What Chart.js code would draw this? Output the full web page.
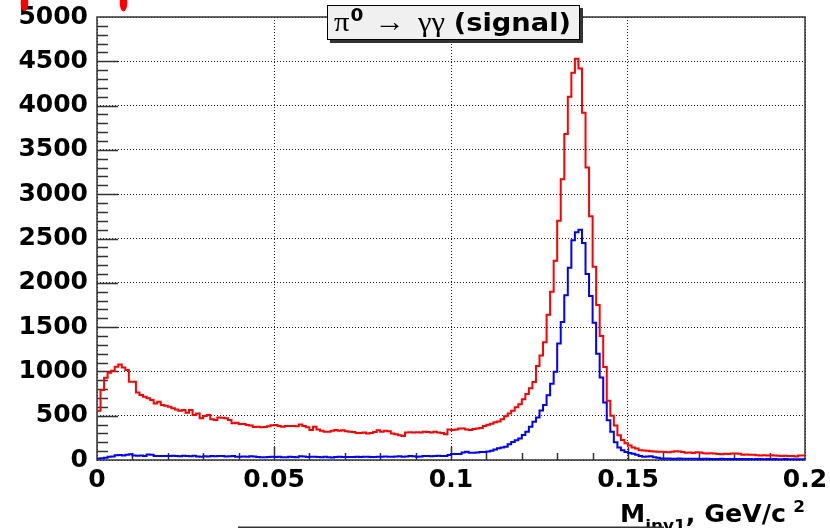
<!DOCTYPE html>
<html>
<head>
<meta charset="utf-8">
<script src="https://cdn.jsdelivr.net/npm/chart.js@4.4.0/dist/chart.umd.min.js"></script>
<style>
  html, body { margin: 0; padding: 0; background: #fff; }
  #wrap { width: 830px; height: 528px; }
</style>
</head>
<body>
<div id="wrap"><canvas id="minv" width="830" height="528"></canvas></div>
<script>
// Invariant mass histogram, 200 bins of 1 MeV from 0 to 0.2 GeV/c^2
const xMin = 0;
const xMax = 0.2;
const nBins = 200;
const binEdges = Array.from({ length: nBins + 1 }, (_, i) => +(xMin + i * (xMax - xMin) / nBins).toFixed(3));

const xTickLabels = ['0', '0.05', '0.1', '0.15', '0.2'];
const yTickLabels = ['0', '500', '1000', '1500', '2000', '2500', '3000', '3500', '4000', '4500', '5000'];

// all photon pairs (red)
const countsAll = [
  140, 556, 790, 929, 985, 1008, 1053, 1079, 1045, 1015,
  884, 884, 763, 733, 714, 696, 677, 639, 658, 620,
  613, 602, 583, 571, 556, 564, 534, 564, 508, 526,
  470, 496, 508, 459, 451, 481, 478, 470, 451, 414,
  421, 406, 406, 395, 388, 372, 376, 370, 372, 380,
  392, 395, 385, 375, 383, 383, 385, 380, 400, 385,
  370, 340, 375, 345, 330, 320, 320, 330, 340, 330,
  335, 325, 320, 315, 305, 305, 310, 300, 305, 315,
  335, 320, 330, 325, 300, 290, 280, 272, 310, 312,
  310, 312, 310, 318, 315, 310, 318, 310, 305, 292,
  345, 340, 345, 355, 355, 345, 340, 350, 355, 360,
  385, 398, 408, 425, 435, 460, 495, 525, 555, 595,
  630, 685, 745, 810, 880, 1060, 1180, 1330, 1640, 1900,
  2250, 2700, 3170, 3680, 4100, 4370, 4530, 4420, 3920, 3300,
  2750, 2180, 1750, 1400, 1050, 670, 500, 390, 280, 225,
  190, 165, 140, 130, 110, 108, 105, 100, 95, 92,
  94, 90, 88, 92, 100, 96, 90, 83, 85, 80,
  88, 86, 76, 74, 75, 72, 68, 66, 70, 68,
  74, 72, 70, 60, 62, 58, 60, 55, 52, 54,
  50, 55, 52, 48, 45, 47, 44, 46, 40, 50
];

// signal pairs from pi0 -> gamma gamma (blue)
const countsSignal = [
  15, 18, 20, 25, 38, 40, 55, 56, 52, 60,
  66, 50, 48, 50, 46, 62, 58, 45, 44, 46,
  45, 44, 48, 45, 43, 47, 45, 42, 48, 40,
  38, 42, 40, 45, 42, 46, 44, 40, 42, 45,
  38, 36, 40, 38, 42, 40, 35, 32, 30, 34,
  36, 35, 38, 32, 30, 36, 34, 30, 42, 40,
  35, 38, 36, 34, 32, 36, 30, 28, 34, 36,
  35, 33, 35, 34, 36, 35, 38, 36, 35, 34,
  36, 38, 40, 36, 38, 40, 42, 38, 40, 44,
  42, 38, 40, 45, 44, 42, 46, 48, 45, 44,
  56, 68, 68, 68, 85, 94, 83, 83, 85, 90,
  90, 95, 105, 118, 132, 140, 150, 178, 203, 222,
  244, 281, 319, 375, 432, 480, 560, 620, 730, 860,
  995, 1314, 1557, 1860, 2170, 2480, 2570, 2600, 2450, 2100,
  1850, 1550, 1200, 930, 650, 450, 320, 200, 140, 110,
  90, 80, 70, 60, 45, 38, 40, 42, 30, 25,
  18, 16, 18, 15, 14, 16, 15, 14, 15, 13,
  14, 12, 13, 14, 12, 11, 12, 13, 11, 12,
  10, 11, 12, 10, 11, 10, 9, 10, 11, 9,
  10, 9, 10, 8, 9, 10, 8, 9, 8, 9
];

// turn bin contents into step points (low edge of each bin + closing point)
function toSteps(counts) {
  const pts = counts.map((c, i) => ({ x: binEdges[i], y: c }));
  pts.push({ x: binEdges[nBins], y: counts[counts.length - 1] });
  return pts;
}

const axisFont = { family: 'DejaVu Sans', weight: 'bold', size: 25 };

// frame and inward ticks, ROOT style
const framePlugin = {
  id: 'frame',
  beforeDatasetsDraw(chart) {
    const { ctx, chartArea: a, scales: { x, y } } = chart;
    ctx.save();
    ctx.strokeStyle = '#333';
    ctx.lineWidth = 1.5;
    ctx.beginPath();
    for (let v = 100; v < 5000; v += 100) {
      const py = Math.round(y.getPixelForValue(v)) + 0.5;
      const len = v % 500 === 0 ? 21 : 11;
      ctx.moveTo(a.left, py);
      ctx.lineTo(a.left + len, py);
    }
    for (let k = 1; k < 20; k++) {
      const px = Math.round(x.getPixelForValue(k / 100)) + 0.5;
      const len = k % 5 === 0 ? 13 : 7;
      ctx.moveTo(px, a.bottom);
      ctx.lineTo(px, a.bottom - len);
    }
    ctx.stroke();
    ctx.strokeRect(a.left, a.top, a.right - a.left, a.bottom - a.top);
    ctx.restore();
  }
};

// draw a run of text pieces squeezed into [x0, x1]
function drawPieces(ctx, pieces, x0, x1, baseline) {
  let w = 0;
  pieces.forEach(p => { ctx.font = p.font; w += ctx.measureText(p.text).width + (p.gap || 0); });
  const sx = (x1 - x0) / w;
  ctx.save();
  ctx.translate(x0, baseline);
  ctx.scale(sx, 1);
  let cx = 0;
  pieces.forEach(p => {
    ctx.font = p.font;
    cx += (p.gap || 0);
    ctx.fillText(p.text, cx, p.dy || 0);
    cx += ctx.measureText(p.text).width;
  });
  ctx.restore();
}

const labelsPlugin = {
  id: 'labels',
  afterDraw(chart) {
    const { ctx } = chart;
    ctx.save();
    ctx.textBaseline = 'alphabetic';

    // title pave with shadow
    ctx.fillStyle = '#333';
    ctx.fillRect(330, 8, 253, 35);
    ctx.fillStyle = '#f0f0f0';
    ctx.fillRect(327, 5, 253, 35);
    ctx.strokeStyle = '#000';
    ctx.lineWidth = 1;
    ctx.strokeRect(327.5, 5.5, 252, 34);
    ctx.fillStyle = '#000';
    const serif = '28px "Liberation Serif", "DejaVu Serif", serif';
    drawPieces(ctx, [
      { text: 'π', font: serif },
      { text: '0', font: 'bold 17px "DejaVu Sans"', dy: -10, gap: 1 },
      { text: '→', font: serif, gap: 10 },
      { text: 'γγ', font: serif, gap: 12 },
      { text: '(signal)', font: 'bold 25px "DejaVu Sans"', gap: 8 }
    ], 334, 571, 31);

    // x axis title
    drawPieces(ctx, [
      { text: 'M', font: 'bold 24px "DejaVu Sans"' },
      { text: 'inv1', font: 'bold 16px "DejaVu Sans"', dy: 9 },
      { text: ', GeV/c', font: 'bold 24px "DejaVu Sans"' },
      { text: '2', font: 'bold 16px "DejaVu Sans"', dy: -10, gap: 7 }
    ], 620, 805, 522);

    // stray markers along the top edge
    ctx.fillStyle = '#ff0000';
    [24.5, 123.5].forEach(cx => {
      ctx.beginPath();
      ctx.ellipse(cx, 3, 3.8, 8.5, 0, 0, Math.PI * 2);
      ctx.fill();
    });

    // edge of the pad below
    ctx.strokeStyle = '#333';
    ctx.lineWidth = 1.5;
    ctx.beginPath();
    ctx.moveTo(238, 527.2);
    ctx.lineTo(664, 527.2);
    ctx.stroke();
    ctx.restore();
  }
};

new Chart(document.getElementById('minv'), {
  type: 'line',
  data: {
    datasets: [
      {
        label: 'signal',
        data: toSteps(countsSignal),
        borderColor: '#0000ff',
        borderWidth: 2,
        stepped: 'after',
        pointRadius: 0,
        fill: false
      },
      {
        label: 'all',
        data: toSteps(countsAll),
        borderColor: '#ff0000',
        borderWidth: 2,
        stepped: 'after',
        pointRadius: 0,
        fill: false
      }
    ]
  },
  options: {
    responsive: false,
    animation: false,
    devicePixelRatio: 1,
    layout: { padding: { top: 17, right: 25, left: 0, bottom: 0 } },
    plugins: { legend: { display: false }, tooltip: { enabled: false } },
    scales: {
      x: {
        type: 'linear',
        min: xMin,
        max: xMax,
        afterFit: s => { s.height = 68; s.paddingLeft = 0; s.paddingRight = 0; },
        afterBuildTicks: s => { s.ticks = xTickLabels.map(t => ({ value: parseFloat(t) })); },
        ticks: {
          font: axisFont,
          color: '#000',
          padding: 5,
          maxRotation: 0,
          autoSkip: false,
          callback: (v, i) => xTickLabels[i]
        },
        grid: { color: '#222', lineWidth: 1, drawTicks: false },
        border: { display: false, dash: [1, 2] }
      },
      y: {
        type: 'linear',
        min: 0,
        max: 5000,
        afterFit: s => { s.width = 97; s.paddingTop = 0; s.paddingBottom = 0; },
        afterBuildTicks: s => { s.ticks = yTickLabels.map(t => ({ value: +t })); },
        ticks: {
          font: axisFont,
          color: '#000',
          padding: 9,
          autoSkip: false,
          callback: (v, i) => yTickLabels[i]
        },
        grid: { color: '#222', lineWidth: 1, drawTicks: false },
        border: { display: false, dash: [1, 2] }
      }
    }
  },
  plugins: [framePlugin, labelsPlugin]
});
</script>
</body>
</html>
